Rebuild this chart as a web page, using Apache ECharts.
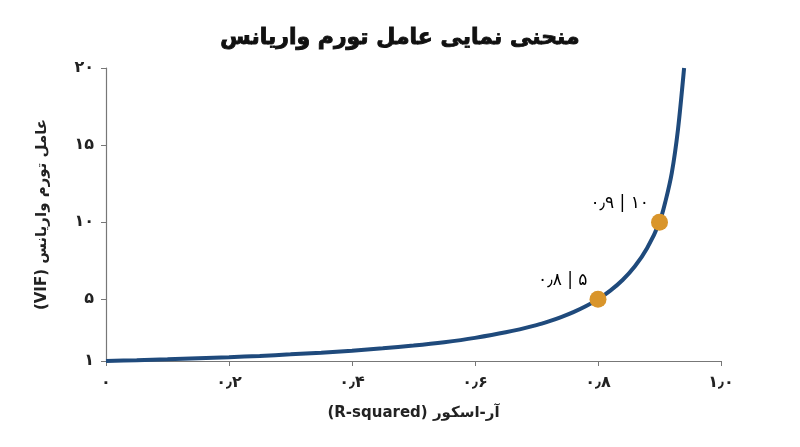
<!DOCTYPE html>
<html>
<head>
<meta charset="utf-8">
<script src="https://cdn.jsdelivr.net/npm/echarts@6/dist/echarts.min.js"></script>
<style>
  html, body { margin: 0; padding: 0; background: #fff; }
  #main { width: 800px; height: 447px; }
</style>
</head>
<body>
<div id="main"></div>
<script>
// منحنی VIF: مقادیر از روی تصویر خوانده شده
var rSquared = [0, 0.05, 0.1, 0.15, 0.2, 0.25, 0.3, 0.35, 0.4, 0.45, 0.5, 0.55, 0.6, 0.65, 0.7,
    0.72, 0.74, 0.76, 0.78, 0.8, 0.82, 0.84, 0.86, 0.88, 0.9, 0.91, 0.92, 0.93, 0.94];
var vifValues = [1, 1.05, 1.11, 1.18, 1.25, 1.33, 1.43, 1.54, 1.67, 1.82, 2, 2.22, 2.5, 2.86, 3.33,
    3.57, 3.85, 4.17, 4.55, 5, 5.56, 6.25, 7.14, 8.33, 10, 11.4, 13.2, 16, 20];

// نقاط مشخص شده
var markX = [0.8, 0.9];
var markY = [5, 10];
var markText = ['۰٫۸ | ۵', '۰٫۹ | ۱۰'];

// برچسب محورها
var xTicks = [0, 0.2, 0.4, 0.6, 0.8, 1.0];
var xTickText = ['۰', '۰٫۲', '۰٫۴', '۰٫۶', '۰٫۸', '۱٫۰'];
var yTicks = [1, 5, 10, 15, 20];
var yTickText = ['۱', '۵', '۱۰', '۱۵', '۲۰'];

var fa = 'DejaVu Sans';
var RLE = '\u202B', PDF = '\u202C';

var curve = [];
for (var i = 0; i < rSquared.length; i++) {
    curve.push([rSquared[i], vifValues[i]]);
}
var marks = [];
for (var i = 0; i < markX.length; i++) {
    marks.push({value: [markX[i], markY[i]], label: {formatter: markText[i]}});
}

var myChart = echarts.init(document.getElementById('main'));
var option = {
    animation: false,
    title: {
        text: 'منحنی نمایی عامل تورم واریانس',
        left: 'center',
        top: 22,
        textStyle: {fontFamily: fa, fontSize: 22, fontWeight: 'bold', color: '#111',
            textBorderColor: '#111', textBorderWidth: 0.9}
    },
    grid: {left: 106, right: 79, top: 68, bottom: 86},
    xAxis: {
        type: 'value',
        min: 0,
        max: 1,
        name: RLE + 'آر-اسکور (R-squared)' + PDF,
        nameLocation: 'middle',
        nameGap: 45,
        nameTextStyle: {fontFamily: fa, fontSize: 15, fontWeight: 'bold', color: '#222'},
        splitLine: {show: false},
        axisLine: {lineStyle: {color: '#777', width: 1.2}},
        axisTick: {customValues: xTicks, length: 5, lineStyle: {color: '#777'}},
        axisLabel: {
            customValues: xTicks,
            margin: 14,
            fontFamily: fa, fontSize: 16, fontWeight: 'bold', color: '#222',
            formatter: function (v) {
                var k = xTicks.indexOf(v);
                return k >= 0 ? xTickText[k] : '';
            }
        }
    },
    yAxis: {
        type: 'value',
        min: 1,
        max: 20,
        name: RLE + 'عامل تورم واریانس (VIF)' + PDF,
        nameLocation: 'middle',
        nameGap: 56,
        nameRotate: 90,
        nameTextStyle: {fontFamily: fa, fontSize: 15, fontWeight: 'bold', color: '#222'},
        splitLine: {show: false},
        axisLine: {show: true, lineStyle: {color: '#777', width: 1.2}},
        axisTick: {show: true, customValues: yTicks, length: 5, lineStyle: {color: '#777'}},
        axisLabel: {
            customValues: yTicks,
            margin: 12,
            fontFamily: fa, fontSize: 16, fontWeight: 'bold', color: '#222',
            formatter: function (v) {
                var k = yTicks.indexOf(v);
                return k >= 0 ? yTickText[k] : '';
            }
        }
    },
    series: [
        {
            type: 'line',
            data: curve,
            smooth: 0.3,
            showSymbol: false,
            lineStyle: {color: '#1f4a7c', width: 4}
        },
        {
            type: 'scatter',
            data: marks,
            symbolSize: 17,
            itemStyle: {color: '#d9952b', opacity: 1},
            z: 5,
            label: {
                show: true,
                position: 'left',
                distance: 2,
                offset: [0, -19],
                fontFamily: fa, fontSize: 17, color: '#000'
            }
        }
    ]
};
myChart.setOption(option);
</script>
</body>
</html>
